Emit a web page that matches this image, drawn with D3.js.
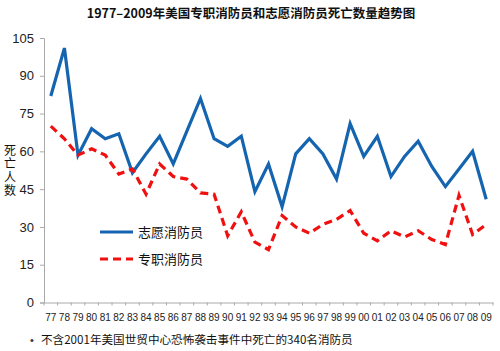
<!DOCTYPE html>
<html><head><meta charset="utf-8">
<script src="https://cdn.jsdelivr.net/npm/d3@7"></script>
<style>
body{margin:0;background:#fff;}
svg{display:block;font-family:"Liberation Sans",Arial,"Noto Sans CJK SC",sans-serif;}
</style></head>
<body>
<svg id="c" width="500" height="351"></svg>
<script>
const years = ["77","78","79","80","81","82","83","84","85","86","87","88","89","90","91","92","93","94","95","96","97","98","99","00","01","02","03","04","05","06","07","08","09"];
const volunteer = [82,101,58.5,69,65,67,51.5,59,66,55,68,81,65,62,66,44,55,38,59,65,59,49,71,58,66,50,58,64,54,46,53,60,41];
const career = [70,65,58.5,61,58.5,51,53,43,55,50,49,43.5,43,26.5,36,24,21,34.5,30,27.5,31,33,36.5,27.5,24.5,28.5,26,28.5,25,23,42.5,27,31];
const yTicks = [0,15,30,45,60,75,90,105];
const seriesNames = ["志愿消防员","专职消防员"];
const title = "1977–2009年美国专职消防员和志愿消防员死亡数量趋势图";
const yTitle = "死亡人数";
const footnote = "不含2001年美国世贸中心恐怖袭击事件中死亡的340名消防员";

const svg = d3.select("#c");
const L=44, R=493, T=38, B=302.5;
const x = d3.scaleBand().domain(years).range([L,R]);
const y = d3.scaleLinear().domain([0,105]).range([B,T]);

// title
svg.append("text").attr("x",251).attr("y",18).attr("text-anchor","middle")
  .attr("font-family","'Noto Sans CJK SC',sans-serif").attr("font-weight","bold")
  .attr("font-size","12.5px").attr("fill","#111").text(title);

// y axis
const ya = svg.append("g").attr("transform",`translate(${L},0)`)
  .call(d3.axisLeft(y).tickValues(yTicks).tickSize(4).tickPadding(6));
ya.select(".domain").attr("stroke","#aaa");
ya.selectAll(".tick line").attr("stroke","#aaa");
ya.selectAll("text").attr("font-size","13px").attr("fill","#222")
  .attr("font-family","'Liberation Sans',Arial,sans-serif");

// x axis
const xa = svg.append("g").attr("transform",`translate(0,${B})`)
  .call(d3.axisBottom(x).tickSize(0).tickPadding(11));
xa.select(".domain").attr("stroke","#aaa");
xa.selectAll("text").attr("font-size","10px").attr("fill","#222")
  .attr("font-family","'Liberation Sans',Arial,sans-serif");
const bounds = years.map(d=>x(d)).concat([x(years[years.length-1])+x.bandwidth()]);
xa.selectAll(".bt").data(bounds).enter().append("line")
  .attr("x1",d=>d).attr("x2",d=>d).attr("y1",0).attr("y2",3).attr("stroke","#aaa");

// y title (vertical stacked)
svg.append("text").attr("x",10).attr("y",144)
  .style("writing-mode","vertical-rl").style("letter-spacing","1.5px")
  .attr("font-family","'Noto Sans CJK SC',sans-serif")
  .attr("font-size","12px").attr("fill","#111").text(yTitle);

const line = d3.line().x((d,i)=>x(years[i])+x.bandwidth()/2).y(d=>y(d));
svg.append("path").datum(volunteer).attr("d",line).attr("fill","none")
  .attr("stroke","#1464b0").attr("stroke-width",3.2).attr("stroke-linejoin","miter");
svg.append("path").datum(career).attr("d",line).attr("fill","none")
  .attr("stroke","#f01010").attr("stroke-width",3.2).attr("stroke-dasharray","8,5");

// legend
const leg = [{c:"#1464b0",d:null,y:232},{c:"#f01010",d:"8,5",y:259}];
leg.forEach((l,i)=>{
  svg.append("line").attr("x1",100).attr("x2",133).attr("y1",l.y).attr("y2",l.y)
    .attr("stroke",l.c).attr("stroke-width",3.2).attr("stroke-dasharray",l.d);
  svg.append("text").attr("x",138).attr("y",l.y+5).attr("font-size","13px")
    .attr("font-family","'Noto Sans CJK SC',sans-serif")
    .attr("fill","#111").text(seriesNames[i]);
});

// footnote
svg.append("text").attr("x",30).attr("y",344).attr("font-size","11px").attr("fill","#333").text("•");
svg.append("text").attr("x",41).attr("y",344).attr("font-size","11.6px")
  .attr("font-family","'Noto Sans CJK SC',sans-serif")
  .attr("fill","#111").text(footnote);
</script>
</body></html>
